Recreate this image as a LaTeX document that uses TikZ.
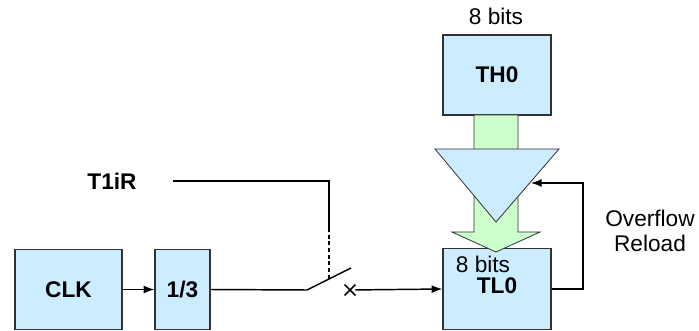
\documentclass[tikz,border=0pt]{standalone}
\usepackage{fontspec}
\setmainfont{Liberation Sans}
\usetikzlibrary{arrows.meta, shapes.misc}

\definecolor{regblue}{RGB}{204,236,255}
\definecolor{busgreen}{RGB}{204,255,204}
\definecolor{edgegray}{RGB}{50,50,50}

\newcommand{\lblfont}{\fontsize{17}{18.75}\selectfont}

\tikzset{
    blk/.style={draw=edgegray, line width=1pt, fill=regblue, font=\lblfont\bfseries},
    wire/.style={line width=1.1pt},
    sig/.style={wire, -{Latex[length=8pt, width=6pt]}},
}

\begin{document}
\begin{tikzpicture}[x=0.75pt, y=-0.75pt, font=\lblfont]
    \useasboundingbox (0,0) rectangle (699,331);

    % clock and prescaler
    \node[blk, minimum width=80.25pt, minimum height=60pt] (clk) at (68.5,289.5) {CLK};
    \node[blk, minimum width=41.25pt, minimum height=60pt] (div) at (182.5,289.5) {1/3};
    \draw[sig] (clk) -- (div);

    % timer registers
    \node[blk, minimum width=81pt, minimum height=60pt] (th) at (497,75) {TH0};
    \node at (496,16) {8 bits};
    \node[blk, minimum width=81pt, minimum height=60.75pt] (tl) at (497,289) {};
    \node[font=\lblfont\bfseries] (tllabel) at (497,286) {TL0};

    % reload bus
    \draw[draw=edgegray, line width=0.6pt, fill=busgreen]
        (474,115) -- (518,115) -- (518,232) -- (540,232) -- (496,252)
        -- (452,232) -- (474,232) -- cycle;
    \node (tlbits) at (483,264) {8 bits};
    \draw[draw=edgegray, line width=0.6pt, fill=regblue]
        (435,149) -- (559,149) -- (496,222) -- cycle;
    \coordinate (gate) at (531,183);

    % overflow feedback
    \draw[sig] (tl.east) -- (583,289) |- (gate);
    \node[align=center] (ovf) at (650,231) {Overflow\\Reload};

    % run switch
    \node[font=\lblfont\bfseries] (t1ir) at (112,181) {T1iR};
    \coordinate (swa) at (307,290);
    \coordinate (swb) at (351,268);
    \coordinate (ctl) at (329,228);
    \draw[wire] (div.east) -- (swa) -- (swb);
    \draw[wire, shorten <=24pt] (t1ir.east) -| (ctl);
    \draw[wire, densely dashed] (ctl) -- (329,279);
    \node[cross out, draw, line width=1.1pt, minimum size=7pt, inner sep=0pt] (xmark) at (350,290) {};
    \draw[sig] (xmark) -- (tl.west);
\end{tikzpicture}
\end{document}
